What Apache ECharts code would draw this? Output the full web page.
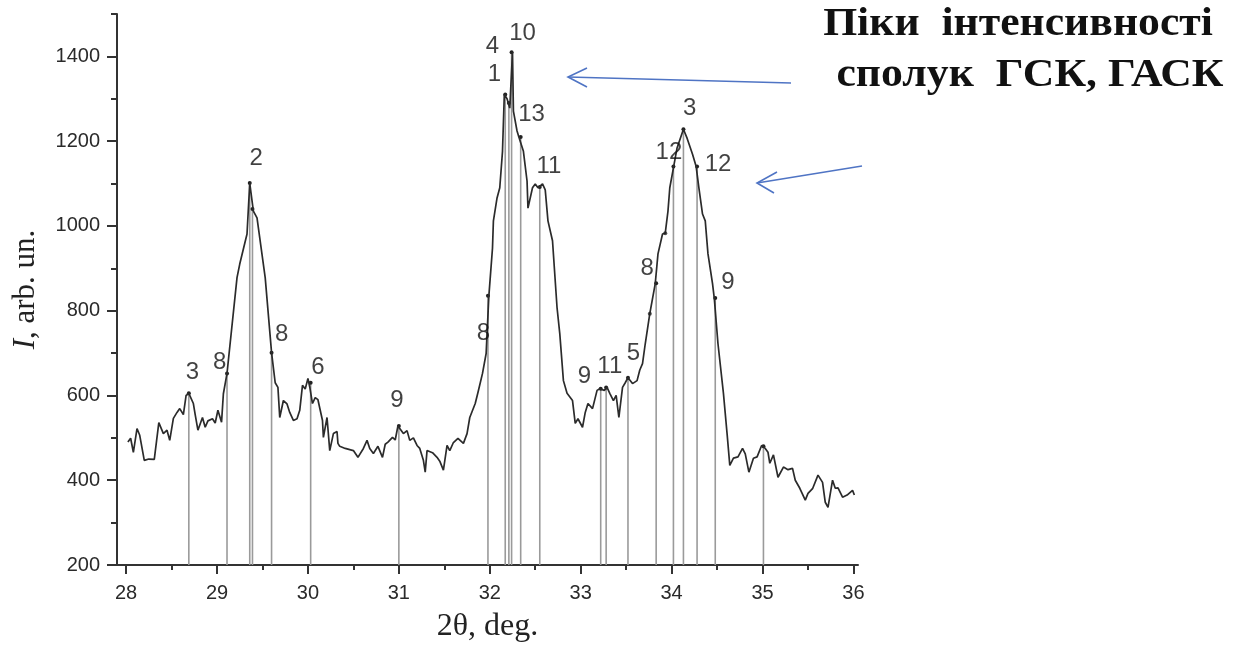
<!DOCTYPE html>
<html><head><meta charset="utf-8">
<script src="https://cdn.jsdelivr.net/npm/echarts@6/dist/echarts.min.js"></script>
<style>html,body{margin:0;padding:0;background:#fff}#c{width:1238px;height:650px}</style>
</head><body><div id="c"></div>
<script>
// ---- Data ----
const twoTheta = [28.02,28.05,28.08,28.12,28.15,28.20,28.25,28.31,28.36,28.41,28.45,28.48,28.52,28.56,28.59,28.63,28.66,28.69,28.74,28.76,28.79,28.84,28.87,28.90,28.95,28.98,29.01,29.05,29.07,29.11,29.22,29.25,29.33,29.36,29.40,29.44,29.46,29.53,29.60,29.64,29.67,29.69,29.73,29.77,29.80,29.84,29.88,29.91,29.94,29.97,30.00,30.02,30.05,30.08,30.11,30.16,30.17,30.21,30.24,30.28,30.32,30.33,30.35,30.41,30.50,30.55,30.61,30.65,30.68,30.72,30.77,30.82,30.85,30.88,30.93,30.96,30.99,31.05,31.09,31.12,31.16,31.20,31.23,31.27,31.29,31.31,31.37,31.42,31.45,31.49,31.53,31.56,31.60,31.65,31.71,31.75,31.78,31.84,31.87,31.92,31.96,31.99,32.03,32.04,32.08,32.11,32.14,32.16,32.19,32.22,32.25,32.26,32.30,32.32,32.37,32.41,32.42,32.47,32.50,32.53,32.58,32.61,32.64,32.69,32.74,32.77,32.81,32.85,32.91,32.94,32.97,33.02,33.05,33.08,33.13,33.18,33.21,33.26,33.29,33.32,33.36,33.39,33.42,33.46,33.49,33.52,33.57,33.62,33.65,33.68,33.71,33.76,33.82,33.85,33.90,33.93,33.96,33.98,34.02,34.06,34.13,34.17,34.23,34.27,34.30,34.34,34.37,34.40,34.45,34.47,34.51,34.57,34.61,34.64,34.68,34.73,34.78,34.81,34.85,34.90,34.94,34.99,35.03,35.06,35.08,35.12,35.17,35.23,35.28,35.33,35.36,35.41,35.47,35.50,35.55,35.61,35.66,35.69,35.72,35.77,35.80,35.83,35.88,35.93,35.99,36.01];
const intensity = [490,499,466,522,506,447,450,449,536,510,518,494,546,560,569,555,600,605,581,555,518,548,525,540,545,535,565,537,604,652,878,910,981,1101,1035,1019,1016,878,701,630,619,548,588,580,560,541,545,565,624,615,640,620,581,595,590,541,501,548,470,510,515,487,480,475,470,454,475,494,475,463,480,454,485,490,501,495,528,510,517,494,500,482,475,447,419,470,465,454,445,424,482,470,489,499,487,510,548,581,607,652,699,835,948,1012,1066,1090,1176,1310,1300,1278,1410,1271,1224,1210,1176,1106,1042,1090,1099,1090,1099,1085,1012,965,807,746,635,605,588,534,545,525,560,581,569,612,616,612,619,605,588,600,548,619,630,642,628,635,660,675,722,793,864,934,981,983,1035,1090,1137,1184,1228,1207,1169,1140,1090,1028,1012,934,864,828,722,605,510,435,452,455,475,462,419,452,455,482,475,466,440,460,407,431,425,428,400,381,353,369,380,412,395,348,336,400,381,382,360,365,376,365];

// vertical marker lines (peak positions and their heights on the curve)
const peakX = [28.69,29.11,29.36,29.39,29.60,30.03,31.00,31.98,32.17,32.21,32.24,32.34,32.55,33.22,33.28,33.52,33.83,34.02,34.13,34.28,34.48,35.01];
const peakY = [605,652,1101,1040,701,630,528,835,1310,1290,1410,1210,1092,616,619,642,865,1140,1228,1140,830,480];
// extra dots on the curve
const dotX = [33.76,33.93];
const dotY = [793,983];

// peak number labels (anchor in data units)
const labelText = ['3','8','2','8','6','9','8','4','1','10','13','11','9','11','5','8','12','3','12','9'];
const labelX = [28.73,29.03,29.43,29.71,30.11,30.98,31.93,32.03,32.05,32.36,32.46,32.65,33.04,33.32,33.58,33.73,33.97,34.20,34.51,34.62];
const labelY = [654,678,1160,743,666,588,746,1424,1358,1454,1264,1141,645,668,699,899,1174,1278,1146,866];

// axes
const xMajorTicks = [28,29,30,31,32,33,34,35,36];
const xMinorTicks = [28.5,29.5,30.5,31.5,32.5,33.5,34.5,35.5];
const yMajorTicks = [200,400,600,800,1000,1200,1400];
const yMinorTicks = [300,500,700,900,1100,1300,1500];
const xTitle = '2θ, deg.';
const yTitle = '{i|I}, arb. un.';
const noteLine1 = 'Піки  інтенсивності';
const noteLine2 = 'сполук  ГСК, ГАСК';

const X_MIN = 27.9, X_MAX = 36.05, Y_MIN = 200, Y_MAX = 1500;

const curve = twoTheta.map((x, i) => [x, intensity[i]]);
const peaks = peakX.map((x, i) => [x, peakY[i]]);
const dots = dotX.map((x, i) => [x, dotY[i]]);
const labels = labelX.map((x, i) => [x, labelY[i], labelText[i]]);

const axisColor = '#333';
const sans = '"Liberation Sans", Arial, sans-serif';
const serif = '"Liberation Serif", "Times New Roman", serif';
const arrowColor = '#4f74c4';

const chart = echarts.init(document.getElementById('c'));
chart.setOption({
  animation: false,
  backgroundColor: '#fff',
  grid: { left: 117, right: 380, top: 14, bottom: 85, outerBoundsMode: 'none' },
  xAxis: [
    {
      type: 'value', min: X_MIN, max: X_MAX,
      axisLine: { show: true, lineStyle: { color: axisColor, width: 2 } },
      axisTick: { show: true, customValues: xMajorTicks, length: 9, lineStyle: { color: axisColor, width: 2 } },
      axisLabel: { customValues: xMajorTicks, fontSize: 20, color: '#2a2a2a', fontFamily: sans, margin: 18, formatter: v => String(v) },
      splitLine: { show: false },
      name: xTitle, nameLocation: 'middle', nameGap: 46,
      nameTextStyle: { fontFamily: serif, fontSize: 32, color: '#222' }
    },
    {
      type: 'value', min: X_MIN, max: X_MAX, position: 'bottom',
      axisLine: { show: false },
      axisTick: { show: true, customValues: xMinorTicks, length: 5, lineStyle: { color: axisColor, width: 2 } },
      axisLabel: { show: false }, splitLine: { show: false }
    }
  ],
  yAxis: [
    {
      type: 'value', min: Y_MIN, max: Y_MAX,
      axisLine: { show: true, lineStyle: { color: axisColor, width: 2 } },
      axisTick: { show: true, customValues: yMajorTicks, length: 10, lineStyle: { color: axisColor, width: 2 } },
      axisLabel: { customValues: yMajorTicks, fontSize: 20, color: '#2a2a2a', fontFamily: sans, margin: 17, formatter: v => String(v) },
      splitLine: { show: false },
      name: yTitle, nameLocation: 'middle', nameGap: 76, nameRotate: 90,
      nameTextStyle: { fontFamily: serif, fontSize: 31, color: '#222', rich: { i: { fontFamily: serif, fontSize: 31, fontStyle: 'italic', color: '#222' } } }
    },
    {
      type: 'value', min: Y_MIN, max: Y_MAX, position: 'left',
      axisLine: { show: false },
      axisTick: { show: true, customValues: yMinorTicks, length: 6, lineStyle: { color: axisColor, width: 2 } },
      axisLabel: { show: false }, splitLine: { show: false }
    }
  ],
  series: [
    {
      type: 'custom', xAxisIndex: 0, yAxisIndex: 0, data: peaks, z: 1,
      renderItem: function (params, api) {
        const x = api.value(0), y = api.value(1);
        const p0 = api.coord([x, Y_MIN]);
        const p1 = api.coord([x, y]);
        return {
          type: 'group', children: [
            { type: 'line', shape: { x1: p0[0], y1: p0[1], x2: p1[0], y2: p1[1] }, style: { stroke: '#9a9a9a', lineWidth: 1.6 } },
            { type: 'circle', shape: { cx: p1[0], cy: p1[1], r: 2 }, style: { fill: '#222' } }
          ]
        };
      }
    },
    {
      type: 'line', data: curve, showSymbol: false, z: 3,
      lineStyle: { color: '#2b2b2b', width: 1.7 }
    },
    {
      type: 'scatter', data: dots, symbolSize: 4, itemStyle: { color: '#222' }, z: 4
    },
    {
      type: 'scatter', data: labels, symbolSize: 0, z: 5,
      label: {
        show: true, position: 'inside', formatter: p => p.value[2],
        fontFamily: sans, fontSize: 24, color: '#111'
      }
    }
  ],
  graphic: [
    { type: 'text', x: 1018, y: 25, scaleX: 1.12, style: { text: noteLine1, fontFamily: serif, fontWeight: 'bold', fontSize: 39, fill: '#111', align: 'center', verticalAlign: 'middle' } },
    { type: 'text', x: 1030, y: 76, scaleX: 1.12, style: { text: noteLine2, fontFamily: serif, fontWeight: 'bold', fontSize: 39, fill: '#111', align: 'center', verticalAlign: 'middle' } },
    { type: 'polyline', shape: { points: [[791, 83], [568, 77]] }, style: { stroke: arrowColor, lineWidth: 1.6, fill: null } },
    { type: 'polyline', shape: { points: [[587, 68], [568, 77], [587, 87]] }, style: { stroke: arrowColor, lineWidth: 1.6, fill: null } },
    { type: 'polyline', shape: { points: [[862, 166], [757, 183]] }, style: { stroke: arrowColor, lineWidth: 1.6, fill: null } },
    { type: 'polyline', shape: { points: [[777, 172], [757, 183], [774, 193]] }, style: { stroke: arrowColor, lineWidth: 1.6, fill: null } }
  ]
});
</script>
</body></html>
